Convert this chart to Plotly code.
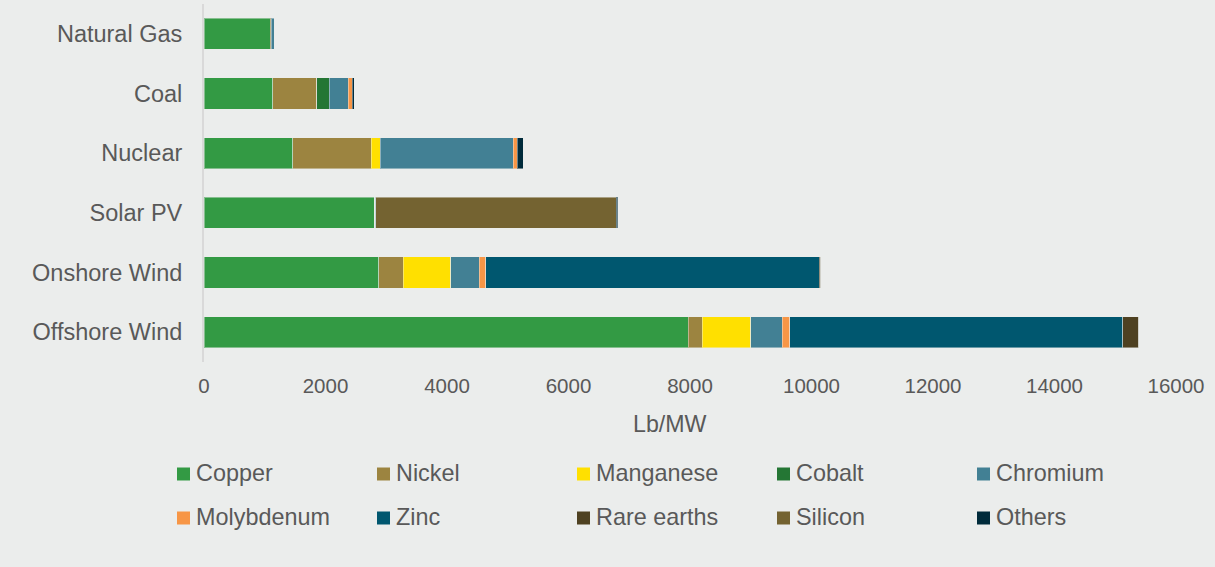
import plotly.graph_objects as go

# Generation technologies, listed top to bottom
technologies = ["Natural Gas", "Coal", "Nuclear", "Solar PV", "Onshore Wind", "Offshore Wind"]

# Mineral intensity per technology (Lb/MW), same order as technologies
copper      = [1090, 1135, 1460, 2810, 2880, 7970]
nickel      = [15,   725,  1290, 0,    400,  230]
manganese   = [0,    0,    148,  0,    780,  797]
cobalt      = [0,    200,  0,    0,    0,    0]
chromium    = [55,   315,  2190, 0,    470,  518]
molybdenum  = [0,    65,   66,   0,    105,  123]
zinc        = [0,    0,    0,    20,   5490, 5483]
rare_earths = [0,    0,    0,    0,    30,   262]
silicon     = [0,    0,    0,    3960, 0,    0]
others      = [0,    35,   100,  20,   0,    0]

minerals = ["Copper", "Nickel", "Manganese", "Cobalt", "Chromium",
            "Molybdenum", "Zinc", "Rare earths", "Silicon", "Others"]
series = [copper, nickel, manganese, cobalt, chromium,
          molybdenum, zinc, rare_earths, silicon, others]
colors = ["#339A44", "#9C8440", "#FFE000", "#247634", "#428094",
          "#F79646", "#00576F", "#4E4121", "#746331", "#002B3B"]

x_ticks = [0, 2000, 4000, 6000, 8000, 10000, 12000, 14000, 16000]

FONT = "Liberation Sans, Arial, sans-serif"
GREY = "#595959"
BG = "#EBEDEC"

W, H = 1215, 567
ML, MR, MT, MB = 204, 39, 4, 205
PW, PH = W - ML - MR, H - MT - MB


def px_x(px):
    return (px - ML) / PW


def px_y(py):
    return (H - MB - py) / PH


fig = go.Figure()
for name, vals, col in zip(minerals, series, colors):
    fig.add_trace(go.Bar(
        y=technologies, x=vals, name=name, orientation="h",
        marker=dict(color=col, line=dict(color="rgba(235,237,236,0.45)", width=1)),
        showlegend=False,
    ))

# Legend drawn as swatches plus labels in two rows of five
shapes = []
annotations = []
for i, (name, col) in enumerate(zip(minerals, colors)):
    c, r = i % 5, i // 5
    left = 177 + 200 * c
    cy = 474 + 44 * r
    shapes.append(dict(
        type="rect", xref="paper", yref="paper",
        x0=px_x(left), x1=px_x(left + 13),
        y0=px_y(cy + 6.5), y1=px_y(cy - 6.5),
        fillcolor=col, line=dict(width=0),
    ))
    annotations.append(dict(
        text=name, xref="paper", yref="paper",
        x=px_x(194 + 200 * c), y=px_y(cy - 1),
        xanchor="left", yanchor="middle", showarrow=False,
        font=dict(family=FONT, size=23.4, color=GREY),
    ))

annotations.append(dict(
    text="Lb/MW", xref="paper", yref="paper",
    x=px_x(670), y=px_y(424), xanchor="center", yanchor="middle",
    showarrow=False, font=dict(family=FONT, size=23.2, color=GREY),
))

fig.update_layout(
    width=W, height=H,
    margin=dict(l=ML, r=MR, t=MT, b=MB, pad=0),
    barmode="stack", bargap=0.48,
    paper_bgcolor=BG, plot_bgcolor=BG,
    shapes=shapes, annotations=annotations,
    showlegend=False,
    xaxis=dict(
        range=[0, 16000], tickvals=x_ticks, ticktext=[str(v) for v in x_ticks],
        showgrid=False, zeroline=False, showline=False,
        ticks="outside", ticklen=5, tickcolor="rgba(0,0,0,0)",
        tickfont=dict(family=FONT, size=20.5, color=GREY),
    ),
    yaxis=dict(
        autorange="reversed", showgrid=False, zeroline=False,
        showline=True, linecolor="#D9D9D9", linewidth=2,
        ticks="", ticklabelstandoff=15,
        tickfont=dict(family=FONT, size=23.5, color=GREY),
    ),
)

fig.write_html("out.html")
